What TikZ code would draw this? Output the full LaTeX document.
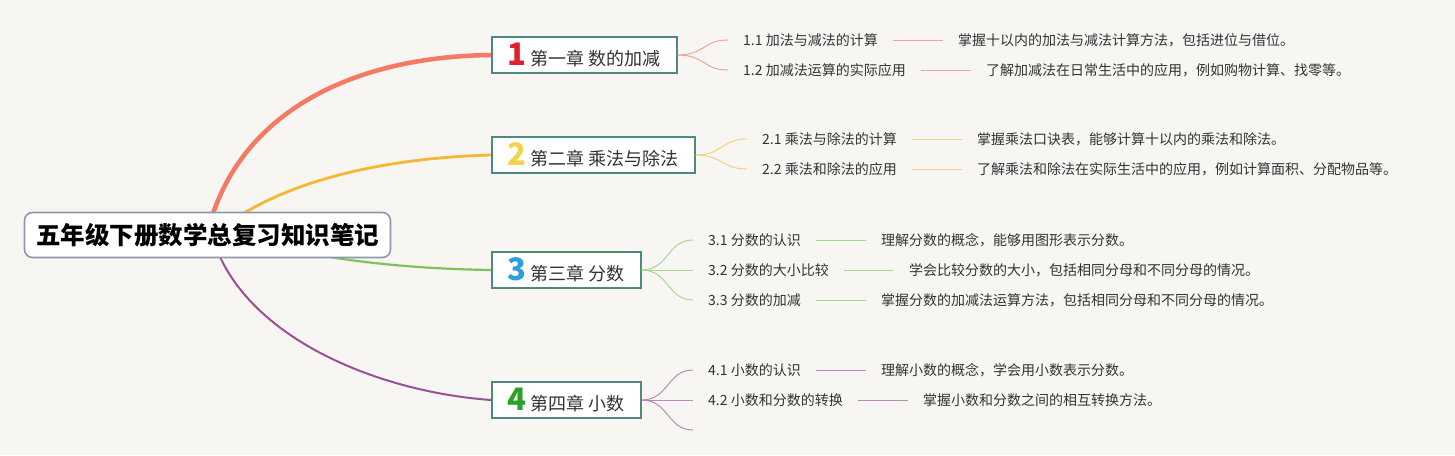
\documentclass[tikz,border=0pt]{standalone}
\usepackage{fontspec}
\setmainfont{Noto Sans CJK SC}
\usetikzlibrary{positioning}
\definecolor{bg}{HTML}{F8F6F3}
\definecolor{rootline}{HTML}{8F97AE}
\definecolor{teal}{HTML}{4E8A7E}
\definecolor{txt}{HTML}{333333}
\definecolor{cA}{HTML}{F47A64}
\definecolor{cB}{HTML}{F5B82E}
\definecolor{cC}{HTML}{7DC35A}
\definecolor{cD}{HTML}{9B4F96}
\definecolor{lA}{HTML}{F0A49A}
\definecolor{lB}{HTML}{F5CF80}
\definecolor{lC}{HTML}{A9D68F}
\definecolor{lD}{HTML}{B98AB5}
\definecolor{nA}{HTML}{E0202E}
\definecolor{nB}{HTML}{F2D34A}
\definecolor{nC}{HTML}{2D9EE0}
\definecolor{nD}{HTML}{2BA02B}
\newcommand\chnum[2]{\textcolor{#1}{\fontsize{31}{31}\selectfont\bfseries #2}\hspace{4pt}}
\begin{document}
\begin{tikzpicture}[x=1pt,y=-1pt,
  rootbox/.style={draw=rootline,line width=1.6pt,fill=white,rounded corners=8pt,minimum width=366pt,minimum height=45pt,inner sep=0pt,font=\fontsize{24.5}{28}\selectfont\bfseries,text=black},
  chapbox/.style={draw=teal,line width=1.6pt,fill=white,minimum height=36pt,inner xsep=16pt,inner ysep=0pt,anchor=west,font=\fontsize{18}{20}\selectfont,text=txt},
  subtxt/.style={anchor=west,inner xsep=15pt,inner ysep=2pt,font=\fontsize{14}{16}\selectfont,text=txt},
  desctxt/.style={inner xsep=15pt,inner ysep=2pt,font=\fontsize{14}{16}\selectfont,text=txt},
  link/.style={line width=1pt}
]
\useasboundingbox[fill=bg] (0,0) rectangle (1455,455);

\coordinate (rA) at (207,235);
\coordinate (rB) at (222,228);
\coordinate (rC) at (262,242);
\coordinate (rD) at (215,245);

\node[chapbox] (c1) at (491,55) {\chnum{nA}{1}第一章 数的加减};
\node[chapbox] (c2) at (491,155) {\chnum{nB}{2}第二章 乘法与除法};
\node[chapbox] (c3) at (491,270) {\chnum{nC}{3}第三章 分数};
\node[chapbox] (c4) at (491,400) {\chnum{nD}{4}第四章 小数};

\draw[cA,line width=4.5pt] (rA) .. controls (232,125) and (335,57) .. (c1.west);
\draw[cB,line width=2.8pt] (rB) .. controls (285,180) and (385,158) .. (c2.west);
\draw[cC,line width=2.2pt] (rC) .. controls (330,262) and (420,269) .. (c3.west);
\draw[cD,line width=2pt] (rD) .. controls (250,340) and (380,392) .. (c4.west);

\node[rootbox] (root) at (207.5,235) {五年级下册数学总复习知识笔记};

% chapter 1
\node[subtxt] (s11) at (728,40) {1.1 加法与减法的计算};
\node[subtxt] (s12) at (728,70) {1.2 加减法运算的实际应用};
\node[desctxt,right=50pt of s11] (d11) {掌握十以内的加法与减法计算方法，包括进位与借位。};
\node[desctxt,right=50pt of s12] (d12) {了解加减法在日常生活中的应用，例如购物计算、找零等。};
\draw[lA,link] (c1.east) .. controls (705,55) and (703,40) .. (s11.west);
\draw[lA,link] (c1.east) .. controls (705,55) and (703,70) .. (s12.west);
\draw[lA,link] (s11.east) -- (d11.west);
\draw[lA,link] (s12.east) -- (d12.west);

% chapter 2
\node[subtxt] (s21) at (747,139) {2.1 乘法与除法的计算};
\node[subtxt] (s22) at (747,169) {2.2 乘法和除法的应用};
\node[desctxt,right=50pt of s21] (d21) {掌握乘法口诀表，能够计算十以内的乘法和除法。};
\node[desctxt,right=50pt of s22] (d22) {了解乘法和除法在实际生活中的应用，例如计算面积、分配物品等。};
\draw[lB,link] (c2.east) .. controls (723,155) and (721,139) .. (s21.west);
\draw[lB,link] (c2.east) .. controls (723,155) and (721,169) .. (s22.west);
\draw[lB,link] (s21.east) -- (d21.west);
\draw[lB,link] (s22.east) -- (d22.west);

% chapter 3
\node[subtxt] (s31) at (693,240) {3.1 分数的认识};
\node[subtxt] (s32) at (693,270) {3.2 分数的大小比较};
\node[subtxt] (s33) at (693,300) {3.3 分数的加减};
\node[desctxt,right=50pt of s31] (d31) {理解分数的概念，能够用图形表示分数。};
\node[desctxt,right=50pt of s32] (d32) {学会比较分数的大小，包括相同分母和不同分母的情况。};
\node[desctxt,right=50pt of s33] (d33) {掌握分数的加减法运算方法，包括相同分母和不同分母的情况。};
\draw[lC,link] (c3.east) .. controls (669,270) and (667,240) .. (s31.west);
\draw[lC,link] (c3.east) -- (s32.west);
\draw[lC,link] (c3.east) .. controls (669,270) and (667,300) .. (s33.west);
\draw[lC,link] (s31.east) -- (d31.west);
\draw[lC,link] (s32.east) -- (d32.west);
\draw[lC,link] (s33.east) -- (d33.west);

% chapter 4
\node[subtxt] (s41) at (693,370) {4.1 小数的认识};
\node[subtxt] (s42) at (693,400) {4.2 小数和分数的转换};
\coordinate (s43) at (693,430);
\node[desctxt,right=50pt of s41] (d41) {理解小数的概念，学会用小数表示分数。};
\node[desctxt,right=50pt of s42] (d42) {掌握小数和分数之间的相互转换方法。};
\draw[lD,link] (c4.east) .. controls (669,400) and (667,370) .. (s41.west);
\draw[lD,link] (c4.east) -- (s42.west);
\draw[lD,link] (c4.east) .. controls (669,400) and (667,430) .. (s43);
\draw[lD,link] (s41.east) -- (d41.west);
\draw[lD,link] (s42.east) -- (d42.west);
\end{tikzpicture}
\end{document}
